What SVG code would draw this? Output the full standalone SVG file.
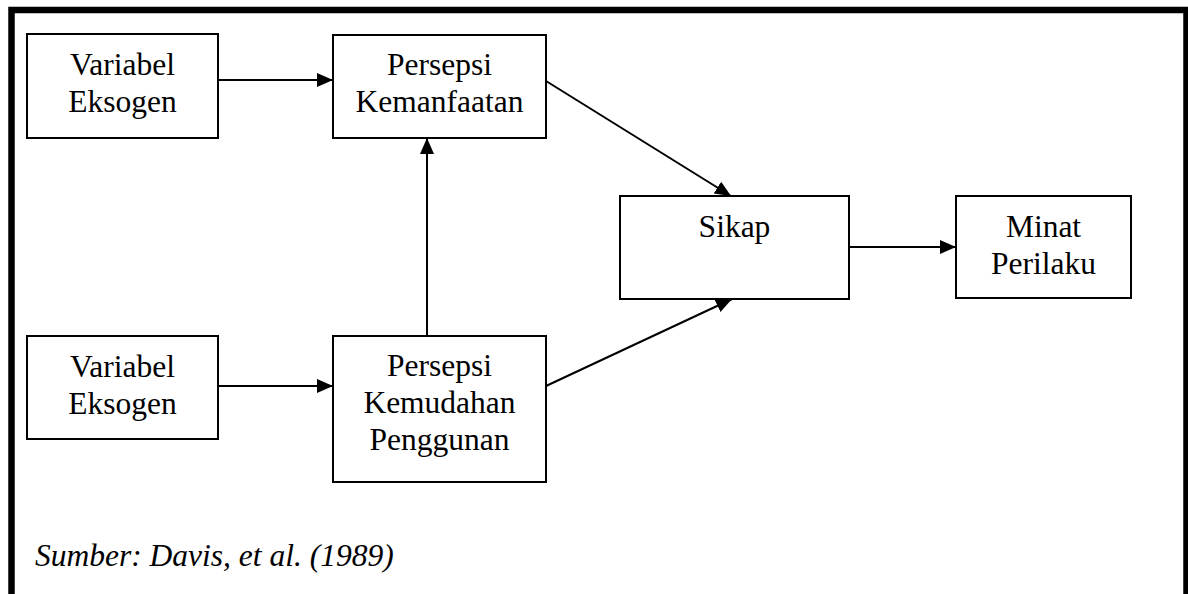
<svg xmlns="http://www.w3.org/2000/svg" width="1188" height="594" viewBox="0 0 1188 594">
<style>
.box{fill:#fff;stroke:#000;stroke-width:2}
.t{font-family:"Liberation Serif","Times New Roman",serif;font-size:31.5px;fill:#000;text-anchor:middle}
.src{font-family:"Liberation Serif","Times New Roman",serif;font-size:31.5px;font-style:italic;fill:#000}
.c{stroke:#000;stroke-width:2;fill:none;marker-end:url(#ah)}
</style>
<defs>
<marker id="ah" markerUnits="userSpaceOnUse" markerWidth="17" markerHeight="15" refX="16" refY="7" orient="auto">
<path d="M0,0 L16,7 L0,14 z" fill="#000"/>
</marker>
</defs>
<rect x="0" y="0" width="1188" height="594" fill="#fff"/>
<rect x="11.5" y="10" width="1175" height="620" fill="none" stroke="#000" stroke-width="6.5"/>
<g id="connectors">
<line class="c" x1="218" y1="80" x2="333" y2="80"/>
<line class="c" x1="218" y1="386" x2="333" y2="386"/>
<line class="c" x1="427" y1="336" x2="427" y2="138"/>
<line class="c" x1="546" y1="81" x2="731" y2="196"/>
<line class="c" x1="546" y1="386" x2="732" y2="299"/>
<line class="c" x1="849" y1="247" x2="956" y2="247"/>
</g>
<g id="n-var1">
<rect class="box" x="27" y="34" width="191" height="104"/>
<text class="t" x="122.5" y="75">Variabel</text>
<text class="t" x="122.5" y="112">Eksogen</text>
</g>
<g id="n-pk">
<rect class="box" x="333" y="35" width="213" height="103"/>
<text class="t" x="439.5" y="75">Persepsi</text>
<text class="t" x="439.5" y="112">Kemanfaatan</text>
</g>
<g id="n-var2">
<rect class="box" x="27" y="336" width="191" height="103"/>
<text class="t" x="122.5" y="377">Variabel</text>
<text class="t" x="122.5" y="414">Eksogen</text>
</g>
<g id="n-pkp">
<rect class="box" x="333" y="336" width="213" height="146"/>
<text class="t" x="439.5" y="376">Persepsi</text>
<text class="t" x="439.5" y="413">Kemudahan</text>
<text class="t" x="439.5" y="450">Penggunan</text>
</g>
<g id="n-sikap">
<rect class="box" x="620" y="196" width="229" height="103"/>
<text class="t" x="734.5" y="237">Sikap</text>
</g>
<g id="n-minat">
<rect class="box" x="956" y="196" width="175" height="102"/>
<text class="t" x="1043.5" y="237">Minat</text>
<text class="t" x="1043.5" y="274">Perilaku</text>
</g>
<text class="src" x="35" y="566">Sumber: Davis, et al. (1989)</text>
</svg>
